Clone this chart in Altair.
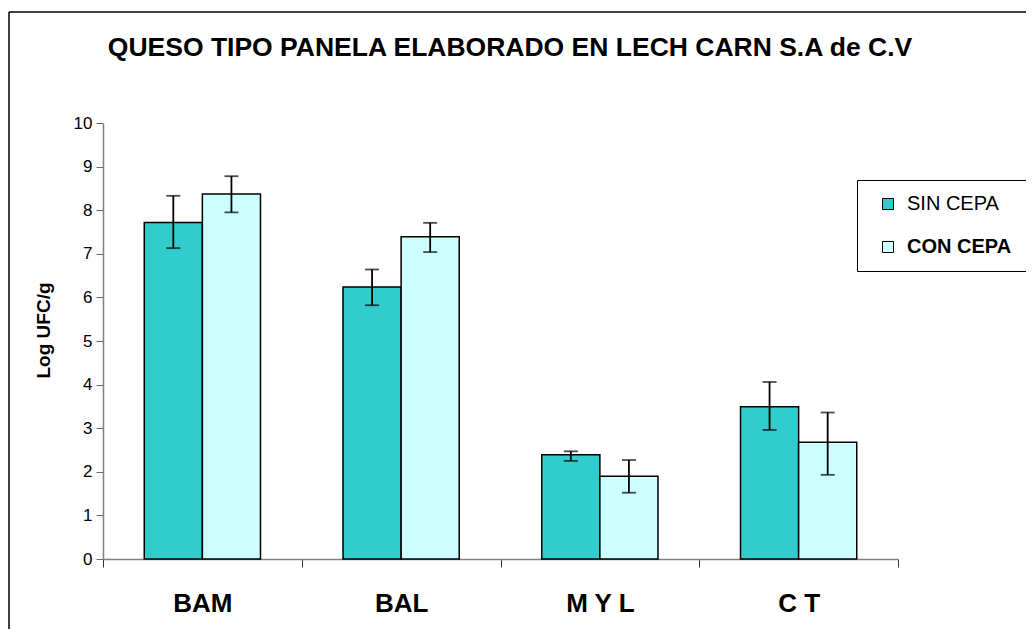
import altair as alt
import pandas as pd

title_text = "QUESO TIPO PANELA ELABORADO EN LECH CARN S.A de C.V"
categories = ["BAM", "BAL", "M Y L", "C T"]
series = ["SIN CEPA", "CON CEPA"]
sin_mean = [7.72, 6.24, 2.39, 3.49]
sin_low = [7.13, 5.82, 2.25, 2.96]
sin_high = [8.33, 6.64, 2.47, 4.06]
con_mean = [8.37, 7.39, 1.90, 2.68]
con_low = [7.95, 7.04, 1.52, 1.93]
con_high = [8.78, 7.71, 2.27, 3.36]
y_ticks = list(range(0, 11))

rows = []
for i, c in enumerate(categories):
    rows.append({"cat": c, "serie": "SIN CEPA", "v": sin_mean[i], "lo": sin_low[i], "hi": sin_high[i]})
    rows.append({"cat": c, "serie": "CON CEPA", "v": con_mean[i], "lo": con_low[i], "hi": con_high[i]})
df = pd.DataFrame(rows)

FONT = "Liberation Sans"
W, H = 795, 436

x_enc = alt.X("cat:N", sort=categories, scale=alt.Scale(paddingInner=0, paddingOuter=0),
              axis=alt.Axis(title=None, labelFont=FONT, labelFontSize=26, labelFontWeight="bold",
                            labelColor="black", labelAngle=0, labelPadding=23,
                            tickBand="extent", tickSize=8, tickColor="#333333", tickWidth=1,
                            domainColor="#808080", domainWidth=1.5, grid=False))
xoff = alt.XOffset("serie:N", sort=series, scale=alt.Scale(paddingInner=0, paddingOuter=0.71))
y_scale = alt.Scale(domain=[0, 10], nice=False)

bars = alt.Chart(df).mark_bar(stroke="black", strokeWidth=1.5).encode(
    x=x_enc,
    xOffset=xoff,
    y=alt.Y("v:Q", scale=y_scale,
            axis=alt.Axis(title="Log UFC/g", titleFont=FONT, titleFontSize=19, titleFontWeight="bold",
                          titleColor="black", titleX=-60, titleY=H / 2 - 11, titleAngle=270,
                          titleAlign="center", titleBaseline="middle",
                          values=y_ticks, labelFont=FONT,
                          labelFontSize=17, labelColor="black", labelPadding=4, tickSize=7,
                          tickColor="#666666", domainColor="#808080", domainWidth=1.5, grid=False)),
    color=alt.Color("serie:N", sort=series,
                    scale=alt.Scale(domain=series, range=["#33CCCC", "#CCFFFF"]),
                    legend=alt.Legend(title=None, orient="none", legendX=754, legendY=57,
                                      labelFont=FONT, labelFontSize=20, labelColor="black",
                                      labelFontWeight={"expr": "datum.label === 'CON CEPA' ? 'bold' : 'normal'"},
                                      symbolType="square", symbolSize=121, symbolStrokeColor="black",
                                      symbolStrokeWidth=1, rowPadding=23, labelOffset=9,
                                      symbolOffset=7, padding=14, strokeColor="black",
                                      fillColor="white", symbolOpacity=1)),
)

err = alt.Chart(df).mark_rule(color="black", strokeWidth=1.8).encode(
    x=alt.X("cat:N", sort=categories), xOffset=xoff, y="lo:Q", y2="hi:Q")
cap_lo = alt.Chart(df).mark_tick(color="black", thickness=1.8, size=14, orient="horizontal").encode(
    x=alt.X("cat:N", sort=categories), xOffset=xoff, y="lo:Q")
cap_hi = alt.Chart(df).mark_tick(color="black", thickness=1.8, size=14, orient="horizontal").encode(
    x=alt.X("cat:N", sort=categories), xOffset=xoff, y="hi:Q")

title = alt.Chart(pd.DataFrame({"t": [title_text]})).mark_text(
    font=FONT, fontSize=26.5, fontWeight="bold", color="black", align="center", baseline="middle"
).encode(text="t:N", x=alt.value(407), y=alt.value(-75))

border_top = alt.Chart(pd.DataFrame({"a": [0]})).mark_rule(color="black", strokeWidth=1.5).encode(
    x=alt.value(-94), x2=alt.value(940), y=alt.value(-111))
border_left = alt.Chart(pd.DataFrame({"a": [0]})).mark_rule(color="black", strokeWidth=1.5).encode(
    x=alt.value(-94), y=alt.value(-111), y2=alt.value(520))

chart = alt.layer(bars, err, cap_lo, cap_hi, title, border_top, border_left).properties(
    width=W, height=H,
    background="white",
    autosize=alt.AutoSizeParams(type="none"),
    padding={"left": 95, "top": 115, "right": 128, "bottom": 70},
).configure_view(stroke=None).configure_axis(grid=False)

chart.save("out.html", embed_options={"renderer": "svg", "actions": False})
